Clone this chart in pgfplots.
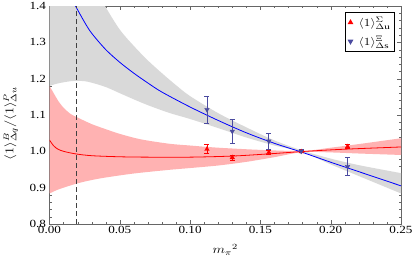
\documentclass[border=0pt]{standalone}
\usepackage{fontspec}
\setmainfont{Liberation Serif}[FakeStretch=1.2]
\usepackage{pgfplots}
\pgfplotsset{compat=1.18}
\usepgfplotslibrary{fillbetween}
\definecolor{slate}{RGB}{75,75,160}
\newcommand{\wide}[1]{\scalebox{1.22}[1]{#1}}
\begin{document}
\begin{tikzpicture}
\begin{axis}[
  at={(0bp,0bp)}, anchor=south west,
  scale only axis, width=351.5bp, height=218bp,
  xmin=0, xmax=0.25, ymin=0.8, ymax=1.4,
  xtick={0,0.05,0.1,0.15,0.2,0.25}, ytick={0.8,0.9,1.0,1.1,1.2,1.3,1.4},
  minor x tick num=4, minor y tick num=4,
  xticklabel style={/pgf/number format/fixed,/pgf/number format/fixed zerofill,/pgf/number format/precision=2, yshift=1.5bp},
  yticklabel style={/pgf/number format/fixed,/pgf/number format/fixed zerofill,/pgf/number format/precision=1},
  /pgf/number format/assume math mode=true,
  tick label style={font=\fontsize{11}{13}\selectfont},
  axis line style={black!60},
  tick style={black!60},
  major tick length=4bp, minor tick length=2bp,
  xtick pos=both, ytick pos=both,
  xlabel={\wide{$m_\pi{}^2$}},
  ylabel={\wide{$\langle 1\rangle^{B}_{\Delta q}/\langle 1\rangle^{P}_{\Delta u}$}},
  xlabel style={at={(axis description cs:0.5,0)}, anchor=north, yshift=-17bp, font=\fontsize{12}{14}\selectfont},
  ylabel style={at={(axis description cs:0,0.46)}, anchor=south, yshift=28bp, font=\fontsize{11.5}{13}\selectfont},
  legend style={at={(rel axis cs:0.983,0.974)}, anchor=north east, draw=black, line width=0.8pt,
     font=\fontsize{11}{13}\selectfont, row sep=4bp, inner sep=3bp},
  legend cell align=left,
]
% grey band (Xi)
\addplot[name path=gu, draw=none, smooth, forget plot] coordinates {
 (0,1.6) (0.03,1.47) (0.0395,1.40) (0.05,1.335) (0.06,1.29) (0.07,1.25) (0.08,1.215)
 (0.09,1.182) (0.1,1.152) (0.12,1.105) (0.14,1.066) (0.16,1.03) (0.18,1.002)
 (0.2,0.980) (0.22,0.962) (0.25,0.940)};
\addplot[name path=gl, draw=none, smooth, forget plot] coordinates {
 (0,1.18) (0.005,1.186) (0.01,1.19) (0.015,1.193) (0.02,1.194) (0.025,1.193) (0.03,1.189)
 (0.04,1.177) (0.05,1.16) (0.06,1.143) (0.07,1.127) (0.085,1.106) (0.1,1.089) (0.12,1.064)
 (0.14,1.038) (0.16,1.016) (0.18,0.998) (0.2,0.964) (0.22,0.932) (0.25,0.884)};
\addplot[gray!30, forget plot] fill between[of=gu and gl];
% pink band (Sigma)
\addplot[name path=pu, draw=none, smooth, forget plot] coordinates {
 (0,1.18) (0.003,1.16) (0.006,1.14) (0.01,1.12) (0.015,1.103) (0.02,1.093) (0.03,1.075)
 (0.04,1.061) (0.05,1.048) (0.065,1.033) (0.085,1.021) (0.1,1.016) (0.12,1.01) (0.15,1.004)
 (0.18,1.001) (0.2,1.010) (0.22,1.020) (0.25,1.036)};
\addplot[name path=pl, draw=none, smooth, forget plot] coordinates {
 (0,0.884) (0.005,0.893) (0.01,0.9) (0.02,0.912) (0.03,0.921) (0.04,0.928) (0.06,0.939)
 (0.085,0.949) (0.1,0.954) (0.12,0.961) (0.14,0.971) (0.16,0.984) (0.18,0.998)
 (0.2,0.997) (0.22,0.994) (0.25,0.99)};
\addplot[red!30, forget plot] fill between[of=pu and pl];
% fit lines
\addplot[red, line width=0.8bp, smooth, forget plot] coordinates {
 (0,1.031) (0.003,1.015) (0.006,1.006) (0.01,1.0) (0.0186,0.993) (0.03,0.988) (0.05,0.985)
 (0.07,0.984) (0.1,0.984) (0.13,0.987) (0.156,0.993) (0.18,0.9995) (0.2,1.004) (0.22,1.0075) (0.25,1.012)};
\addplot[blue, line width=0.8bp, smooth, forget plot] coordinates {
 (0.0185,1.40) (0.025,1.355) (0.03,1.325) (0.04,1.28) (0.05,1.245) (0.06,1.215) (0.07,1.188)
 (0.08,1.163) (0.1,1.122) (0.12,1.085) (0.14,1.051) (0.16,1.022) (0.18,0.997) (0.2,0.970)
 (0.22,0.944) (0.25,0.905)};
% physical point
\addplot[black!75, dash pattern=on 5bp off 3bp, line width=1.1bp, forget plot] coordinates {(0.019,0.8) (0.019,1.4)};
% data
\addplot[only marks, red, mark=triangle*, mark size=2.6pt,
  error bars/.cd, y dir=both, y explicit, error bar style={red, line width=0.8bp},
  error mark options={rotate=90, mark size=2.5pt, red, line width=0.8bp}]
  coordinates {
  (0.112,1.006) +- (0,0.013)
  (0.130,0.983) +- (0,0.007)
  (0.156,0.997) +- (0,0.005)
  (0.179,0.999) +- (0,0.003)
  (0.212,1.013) +- (0,0.005)};
\addlegendentry{\hspace{4bp}\wide{$\langle 1\rangle^{\Sigma}_{\Delta\mathrm{u}}$}}
\addplot[only marks, slate, mark=triangle*, mark options={rotate=180}, mark size=2.6pt,
  error bars/.cd, y dir=both, y explicit, error bar style={slate, line width=0.8bp},
  error mark options={rotate=90, mark size=2.5pt, slate, line width=0.8bp}]
  coordinates {
  (0.112,1.115) +- (0,0.037)
  (0.130,1.055) +- (0,0.033)
  (0.156,1.028) +- (0,0.022)
  (0.179,1.000) +- (0,0.004)
  (0.212,0.958) +- (0,0.024)};
\addlegendentry{\hspace{4bp}\wide{$\langle 1\rangle^{\Xi}_{\Delta\mathrm{s}}$}}
\end{axis}
\pgfresetboundingbox
\useasboundingbox (-49.5bp,-44bp) rectangle (365.5bp,224bp);
\end{tikzpicture}
\end{document}
